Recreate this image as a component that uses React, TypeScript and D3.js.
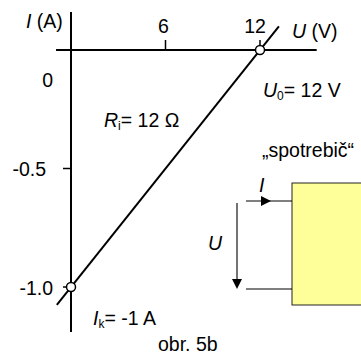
import React from "react";
import * as d3 from "d3";

const xTicks = [6, 12];
const yTicks = [0, -0.5, -1];
const yTickLabels = ["0", "-0.5", "-1.0"];
const lineU = [-0.9, 13.2];
const lineI = [-1.075, 0.1];
const markerU = [0, 12];
const markerI = [-1, 0];
const uAxisExtent = [-0.95, 15.6];
const iAxisExtent = [0.16, -1.19];

const W = 361;
const H = 355;
const FONT = "'Liberation Sans', Arial, sans-serif";

export default function App() {
  const x = d3.scaleLinear().domain([0, 12]).range([71, 260]);
  const y = d3.scaleLinear().domain([0, -1]).range([50, 287]);
  const line = d3
    .line<number>()
    .x((d) => x(lineU[d]))
    .y((d) => y(lineI[d]));
  const fs = 19.5;
  const sub = 12;
  return (
    <svg
      width={W}
      height={H}
      style={{ position: "absolute", left: 0, top: 0, background: "#fff" }}
      fontFamily={FONT}
    >
      {/* axes */}
      <line x1={x(uAxisExtent[0])} x2={x(uAxisExtent[1])} y1={y(0)} y2={y(0)} stroke="#000" strokeWidth={2} />
      <line x1={x(0)} x2={x(0)} y1={y(iAxisExtent[0])} y2={y(iAxisExtent[1])} stroke="#000" strokeWidth={2} />
      {xTicks.map((t) => (
        <g key={t}>
          <line x1={x(t)} x2={x(t)} y1={y(0) - 10} y2={y(0)} stroke="#000" strokeWidth={1.5} />
          <text x={x(t) - (t === 12 ? 5 : 2)} y={33} fontSize={fs} textAnchor="middle">
            {t}
          </text>
        </g>
      ))}
      {yTicks.map((t, i) => (
        <g key={t}>
          {t !== 0 && <line x1={x(0) - 8} x2={x(0)} y1={y(t)} y2={y(t)} stroke="#000" strokeWidth={1.5} />}
          <text
            x={t === -0.5 ? 46 : 53}
            y={t === 0 ? y(t) + 30 : y(t) + 1}
            dy="0.35em"
            fontSize={fs}
            textAnchor="end"
          >
            {yTickLabels[i]}
          </text>
        </g>
      ))}
      {/* axis labels */}
      <text x={26} y={28} fontSize={fs}>
        <tspan fontStyle="italic">I</tspan> (A)
      </text>
      <text x={292} y={38} fontSize={fs}>
        <tspan fontStyle="italic">U</tspan> (V)
      </text>
      {/* characteristic line */}
      <path d={line([0, 1]) || ""} stroke="#000" strokeWidth={2} fill="none" />
      {markerU.map((u, i) => (
        <circle key={i} cx={x(u)} cy={y(markerI[i])} r={4.5} fill="#fff" stroke="#000" strokeWidth={1.5} />
      ))}
      {/* annotations */}
      <text x={263} y={97} fontSize={fs}>
        <tspan fontStyle="italic">U</tspan>
        <tspan fontSize={sub} dy={3}>0</tspan>
        <tspan dy={-3}>= 12 V</tspan>
      </text>
      <text x={104} y={127} fontSize={fs}>
        <tspan fontStyle="italic">R</tspan>
        <tspan fontSize={sub} dy={3}>i</tspan>
        <tspan dy={-3}>= 12 Ω</tspan>
      </text>
      <text x={93} y={325} fontSize={fs}>
        <tspan fontStyle="italic">I</tspan>
        <tspan fontSize={sub} dy={3}>k</tspan>
        <tspan dy={-3}>= -1 A</tspan>
      </text>
      <text x={158} y={351} fontSize={fs}>
        obr. 5b
      </text>
      {/* consumer schematic */}
      <text x={262} y={157} fontSize={fs}>
        „spotrebič“
      </text>
      <rect x={292} y={183} width={80} height={122} fill="#ffff99" stroke="#222" strokeWidth={1} />
      <line x1={246} x2={292} y1={201} y2={201} stroke="#000" strokeWidth={1} />
      <path d="M261,196 L271,201 L261,206 Z" fill="#000" />
      <text x={259} y={192} fontSize={fs} fontStyle="italic">
        I
      </text>
      <line x1={246} x2={292} y1={289} y2={289} stroke="#000" strokeWidth={1} />
      <line x1={237} x2={237} y1={203} y2={280} stroke="#444" strokeWidth={1.5} />
      <path d="M232,279 L237,289 L242,279 Z" fill="#000" />
      <text x={208} y={250} fontSize={fs} fontStyle="italic">
        U
      </text>
    </svg>
  );
}
